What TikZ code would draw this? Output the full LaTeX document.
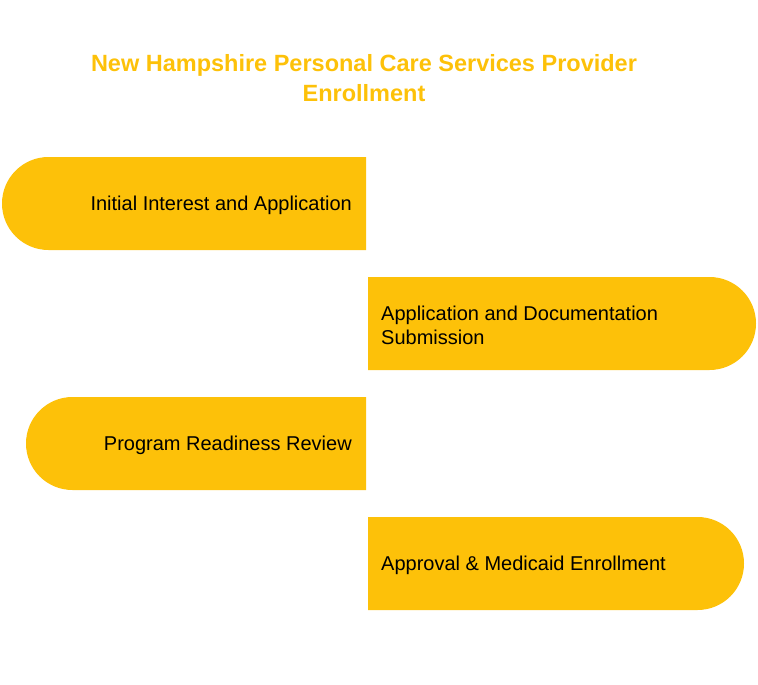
\documentclass[tikz,border=0pt]{standalone}
\usepackage{fontspec}
\setmainfont{Liberation Sans}
\definecolor{amber}{HTML}{FDC109}
\begin{document}
\begin{tikzpicture}[x=1pt, y=-1pt,
  band/.style={fill=amber},
  steptext/.style={font=\fontsize{20}{24}\selectfont, text=black, inner sep=0pt, align=left},
  headtext/.style={font=\fontsize{23.5}{30}\selectfont\bfseries, text=amber, inner sep=0pt, align=center}]
\useasboundingbox (0, 0) rectangle (758, 685);
\fill[band] (366, 157) [rounded corners=46.5] -- (2, 157) -- (2, 250) [sharp corners] -- (366, 250) -- cycle;
\fill[band] (368, 277) [rounded corners=46.5] -- (756, 277) -- (756, 370) [sharp corners] -- (368, 370) -- cycle;
\fill[band] (366, 397) [rounded corners=46.5] -- (26, 397) -- (26, 490) [sharp corners] -- (366, 490) -- cycle;
\fill[band] (368, 517) [rounded corners=46.5] -- (744, 517) -- (744, 610) [sharp corners] -- (368, 610) -- cycle;
\node[headtext] (title) at (364, 78) {New Hampshire Personal Care Services Provider\\Enrollment};
\node[steptext, anchor=east] (interest) at (352, 205) {Initial Interest and Application};
\node[steptext, anchor=west] (submission) at (381, 325) {Application and Documentation\\Submission};
\node[steptext, anchor=east] (readiness) at (352, 445) {Program Readiness Review};
\node[steptext, anchor=west] (approval) at (381, 565) {Approval \& Medicaid Enrollment};
\end{tikzpicture}
\end{document}
